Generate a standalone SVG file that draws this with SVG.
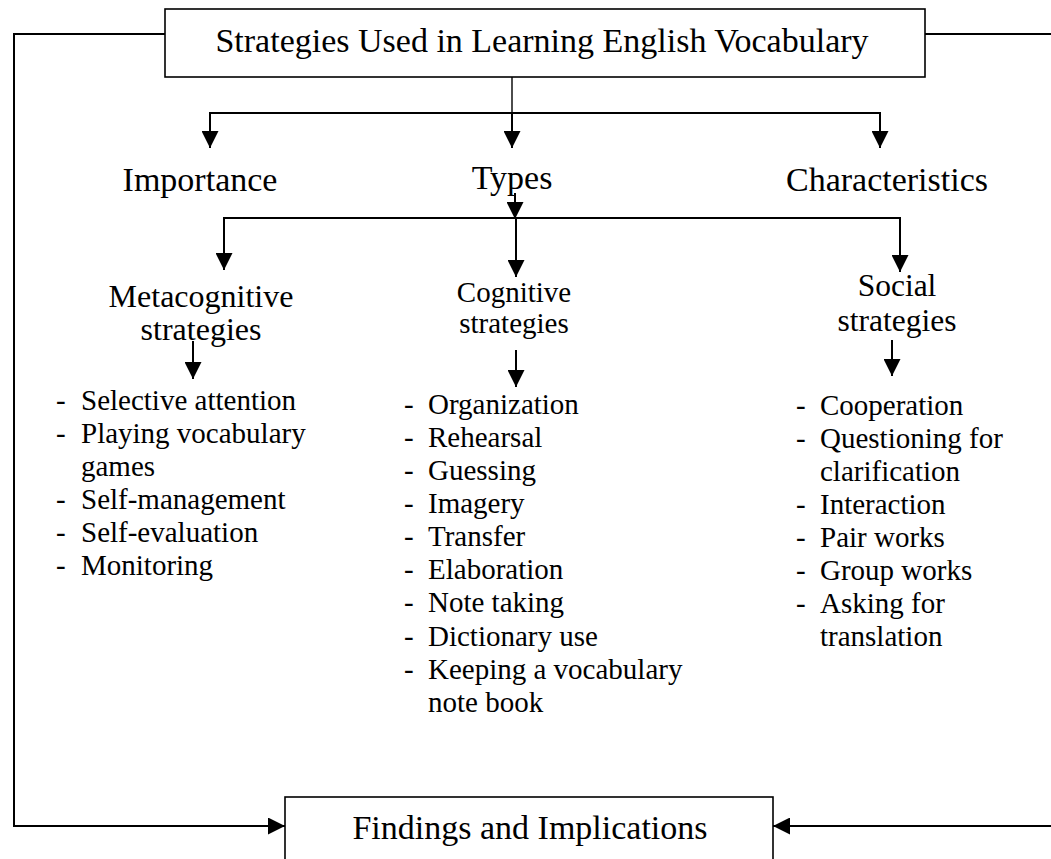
<svg xmlns="http://www.w3.org/2000/svg" width="1051" height="859" viewBox="0 0 1051 859">
  <style>
    text { font-family: "Liberation Serif", "Times New Roman", serif; fill: #000; }
    .box { fill: #fff; stroke: #000; stroke-width: 1.6; }
    .wire { fill: none; stroke: #000; stroke-width: 2; }
    .thin { fill: none; stroke: #000; stroke-width: 1.4; }
    .title { font-size: 34px; text-anchor: middle; }
    .head { font-size: 34px; text-anchor: middle; }
    .meta { font-size: 32px; text-anchor: middle; }
    .soc { font-size: 31.5px; text-anchor: middle; }
    .cog { font-size: 29px; text-anchor: middle; }
    .item { font-size: 29px; }
  </style>
  <defs>
    <marker id="arrow" viewBox="0 0 17 17" markerWidth="17" markerHeight="17" refX="17" refY="8.5" orient="auto" markerUnits="userSpaceOnUse">
      <path d="M0,0 L17,8.5 L0,17 z" fill="#000"/>
    </marker>
  </defs>
  <rect width="1051" height="859" fill="#fff"/>

  <!-- connectors -->
  <g id="connectors">
    <!-- outer loop to findings -->
    <polyline class="wire" points="165,34 14,34 14,826 285,826" marker-end="url(#arrow)"/>
    <line class="wire" x1="925" y1="34" x2="1051" y2="34"/>
    <line class="wire" x1="1051" y1="826" x2="773" y2="826" marker-end="url(#arrow)"/>
    <!-- title to first level -->
    <line class="thin" x1="512" y1="77" x2="512" y2="113"/>
    <line class="wire" x1="210" y1="113" x2="880" y2="113"/>
    <line class="wire" x1="210" y1="112" x2="210" y2="148" marker-end="url(#arrow)"/>
    <line class="wire" x1="512" y1="113" x2="512" y2="148" marker-end="url(#arrow)"/>
    <line class="wire" x1="880" y1="112" x2="880" y2="148" marker-end="url(#arrow)"/>
    <!-- types to strategy groups -->
    <line class="wire" x1="515" y1="193" x2="515" y2="219" marker-end="url(#arrow)"/>
    <line class="wire" x1="224" y1="218" x2="900" y2="218"/>
    <line class="wire" x1="224" y1="217" x2="224" y2="270" marker-end="url(#arrow)"/>
    <line class="wire" x1="516" y1="218" x2="516" y2="277" marker-end="url(#arrow)"/>
    <line class="wire" x1="900" y1="217" x2="900" y2="272" marker-end="url(#arrow)"/>
    <!-- groups to lists -->
    <line class="wire" x1="193" y1="341" x2="193" y2="379" marker-end="url(#arrow)"/>
    <line class="wire" x1="516" y1="350" x2="516" y2="387" marker-end="url(#arrow)"/>
    <line class="wire" x1="892" y1="340" x2="892" y2="376" marker-end="url(#arrow)"/>
  </g>

  <g id="title">
    <rect class="box" x="165" y="9" width="760" height="68"/>
    <text class="title" x="542" y="52">Strategies Used in Learning English Vocabulary</text>
  </g>

  <g id="importance">
    <text class="head" x="200" y="191">Importance</text>
  </g>
  <g id="types">
    <text class="head" x="512" y="189">Types</text>
  </g>
  <g id="characteristics">
    <text class="head" x="887" y="191">Characteristics</text>
  </g>

  <g id="metacognitive">
    <text class="meta" x="201" y="307">Metacognitive</text>
    <text class="meta" x="201" y="340">strategies</text>
  </g>
  <g id="cognitive">
    <text class="cog" x="514" y="302">Cognitive</text>
    <text class="cog" x="514" y="333">strategies</text>
  </g>
  <g id="social">
    <text class="soc" x="897" y="296">Social</text>
    <text class="soc" x="897" y="331">strategies</text>
  </g>

  <g id="metacognitive-list">
    <text class="item" x="56" y="410">-</text><text class="item" x="81" y="410">Selective attention</text>
    <text class="item" x="56" y="443">-</text><text class="item" x="81" y="443">Playing vocabulary</text>
    <text class="item" x="81" y="476">games</text>
    <text class="item" x="56" y="509">-</text><text class="item" x="81" y="509">Self-management</text>
    <text class="item" x="56" y="542">-</text><text class="item" x="81" y="542">Self-evaluation</text>
    <text class="item" x="56" y="575">-</text><text class="item" x="81" y="575">Monitoring</text>
  </g>

  <g id="cognitive-list">
    <text class="item" x="404" y="414">-</text><text class="item" x="428" y="414">Organization</text>
    <text class="item" x="404" y="447">-</text><text class="item" x="428" y="447">Rehearsal</text>
    <text class="item" x="404" y="480">-</text><text class="item" x="428" y="480">Guessing</text>
    <text class="item" x="404" y="513">-</text><text class="item" x="428" y="513">Imagery</text>
    <text class="item" x="404" y="546">-</text><text class="item" x="428" y="546">Transfer</text>
    <text class="item" x="404" y="579">-</text><text class="item" x="428" y="579">Elaboration</text>
    <text class="item" x="404" y="612">-</text><text class="item" x="428" y="612">Note taking</text>
    <text class="item" x="404" y="646">-</text><text class="item" x="428" y="646">Dictionary use</text>
    <text class="item" x="404" y="679">-</text><text class="item" x="428" y="679">Keeping a vocabulary</text>
    <text class="item" x="428" y="712">note book</text>
  </g>

  <g id="social-list">
    <text class="item" x="796" y="415">-</text><text class="item" x="820" y="415">Cooperation</text>
    <text class="item" x="796" y="448">-</text><text class="item" x="820" y="448">Questioning for</text>
    <text class="item" x="820" y="481">clarification</text>
    <text class="item" x="796" y="514">-</text><text class="item" x="820" y="514">Interaction</text>
    <text class="item" x="796" y="547">-</text><text class="item" x="820" y="547">Pair works</text>
    <text class="item" x="796" y="580">-</text><text class="item" x="820" y="580">Group works</text>
    <text class="item" x="796" y="613">-</text><text class="item" x="820" y="613">Asking for</text>
    <text class="item" x="820" y="646">translation</text>
  </g>

  <g id="findings">
    <rect class="box" x="285" y="797" width="488" height="80"/>
    <text class="title" x="530" y="839">Findings and Implications</text>
  </g>
</svg>
